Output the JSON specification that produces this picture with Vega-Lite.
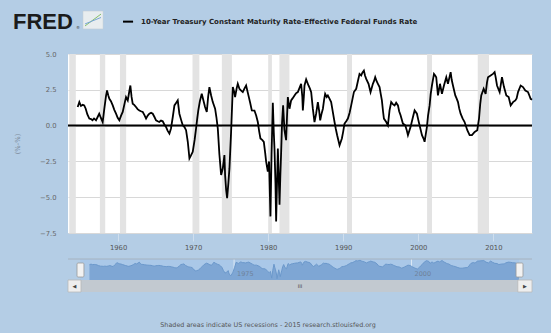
{
  "$schema": "https://vega.github.io/schema/vega-lite/v6.json",
  "background": "#b4cde5",
  "padding": {"left": 12, "top": 10, "right": 20, "bottom": 5},
  "bounds": "flush",
  "spacing": 26,
  "config": {
    "view": {"stroke": null},
    "font": "DejaVu Sans",
    "axis": {"labelFont": "DejaVu Sans", "titleFont": "DejaVu Sans", "labelOverlap": false}
  },
  "datasets": {
    "recessions": [
      {"start": 1953.5, "end": 1954.37},
      {"start": 1957.58, "end": 1958.29},
      {"start": 1960.25, "end": 1961.08},
      {"start": 1969.92, "end": 1970.83},
      {"start": 1973.83, "end": 1975.17},
      {"start": 1980.0, "end": 1980.5},
      {"start": 1981.5, "end": 1982.83},
      {"start": 1990.5, "end": 1991.17},
      {"start": 2001.17, "end": 2001.83},
      {"start": 2007.92, "end": 2009.42}
    ],
    "series": [
      {"t": 1954.62, "v": 1.30}, {"t": 1954.84, "v": 1.64}, {"t": 1955.06, "v": 1.37}, {"t": 1955.30, "v": 1.45},
      {"t": 1955.49, "v": 1.41}, {"t": 1955.69, "v": 1.18}, {"t": 1955.90, "v": 0.80}, {"t": 1956.17, "v": 0.49},
      {"t": 1956.40, "v": 0.45}, {"t": 1956.59, "v": 0.37}, {"t": 1956.80, "v": 0.50}, {"t": 1957.06, "v": 0.37},
      {"t": 1957.28, "v": 0.60}, {"t": 1957.49, "v": 0.83}, {"t": 1957.70, "v": 0.55}, {"t": 1957.95, "v": 0.25},
      {"t": 1958.17, "v": 1.18}, {"t": 1958.40, "v": 2.10}, {"t": 1958.53, "v": 2.45}, {"t": 1958.70, "v": 2.10},
      {"t": 1958.84, "v": 1.87}, {"t": 1959.05, "v": 1.70}, {"t": 1959.29, "v": 1.41}, {"t": 1959.50, "v": 1.10},
      {"t": 1959.73, "v": 0.83}, {"t": 1959.95, "v": 0.55}, {"t": 1960.17, "v": 0.37}, {"t": 1960.40, "v": 0.70},
      {"t": 1960.62, "v": 0.95}, {"t": 1960.85, "v": 1.50}, {"t": 1961.06, "v": 1.99}, {"t": 1961.29, "v": 1.76},
      {"t": 1961.50, "v": 2.40}, {"t": 1961.64, "v": 2.80}, {"t": 1961.80, "v": 2.00}, {"t": 1961.95, "v": 1.53},
      {"t": 1962.15, "v": 1.45}, {"t": 1962.39, "v": 1.30}, {"t": 1962.60, "v": 1.15}, {"t": 1962.84, "v": 1.06},
      {"t": 1963.05, "v": 1.00}, {"t": 1963.29, "v": 0.95}, {"t": 1963.50, "v": 0.75}, {"t": 1963.73, "v": 0.49},
      {"t": 1963.95, "v": 0.70}, {"t": 1964.17, "v": 0.83}, {"t": 1964.40, "v": 0.90}, {"t": 1964.62, "v": 0.83},
      {"t": 1964.85, "v": 0.60}, {"t": 1965.06, "v": 0.37}, {"t": 1965.28, "v": 0.30}, {"t": 1965.49, "v": 0.25},
      {"t": 1965.72, "v": 0.35}, {"t": 1965.95, "v": 0.30}, {"t": 1966.15, "v": 0.10}, {"t": 1966.39, "v": -0.09},
      {"t": 1966.60, "v": -0.35}, {"t": 1966.84, "v": -0.56}, {"t": 1967.05, "v": -0.20}, {"t": 1967.29, "v": 0.60},
      {"t": 1967.51, "v": 1.41}, {"t": 1967.75, "v": 1.60}, {"t": 1967.95, "v": 1.76}, {"t": 1968.17, "v": 0.83},
      {"t": 1968.40, "v": 0.40}, {"t": 1968.62, "v": 0.02}, {"t": 1968.85, "v": -0.10}, {"t": 1969.06, "v": -0.32},
      {"t": 1969.29, "v": -1.13}, {"t": 1969.51, "v": -2.29}, {"t": 1969.70, "v": -2.10}, {"t": 1969.95, "v": -1.83},
      {"t": 1970.20, "v": -1.00}, {"t": 1970.39, "v": -0.21}, {"t": 1970.55, "v": 0.50}, {"t": 1970.69, "v": 1.06},
      {"t": 1970.90, "v": 1.70}, {"t": 1971.15, "v": 2.22}, {"t": 1971.35, "v": 1.80}, {"t": 1971.59, "v": 1.30},
      {"t": 1971.82, "v": 0.95}, {"t": 1972.00, "v": 2.00}, {"t": 1972.17, "v": 2.69}, {"t": 1972.40, "v": 2.10},
      {"t": 1972.62, "v": 1.64}, {"t": 1972.93, "v": 1.18}, {"t": 1973.10, "v": 0.60}, {"t": 1973.29, "v": -0.21},
      {"t": 1973.50, "v": -2.00}, {"t": 1973.73, "v": -3.45}, {"t": 1973.95, "v": -3.00}, {"t": 1974.17, "v": -2.06},
      {"t": 1974.26, "v": -3.45}, {"t": 1974.40, "v": -4.50}, {"t": 1974.53, "v": -5.07}, {"t": 1974.70, "v": -4.00},
      {"t": 1974.84, "v": -2.99}, {"t": 1975.06, "v": -0.44}, {"t": 1975.29, "v": 2.69}, {"t": 1975.50, "v": 2.30},
      {"t": 1975.59, "v": 1.99}, {"t": 1975.80, "v": 2.60}, {"t": 1975.95, "v": 2.92}, {"t": 1976.17, "v": 2.57},
      {"t": 1976.40, "v": 2.45}, {"t": 1976.62, "v": 2.34}, {"t": 1976.85, "v": 2.60}, {"t": 1977.06, "v": 2.80},
      {"t": 1977.37, "v": 2.11}, {"t": 1977.60, "v": 1.60}, {"t": 1977.82, "v": 1.06}, {"t": 1978.17, "v": 1.05},
      {"t": 1978.40, "v": 0.70}, {"t": 1978.62, "v": 0.25}, {"t": 1978.80, "v": -0.40}, {"t": 1978.97, "v": -0.90},
      {"t": 1979.20, "v": -1.00}, {"t": 1979.42, "v": -1.13}, {"t": 1979.60, "v": -1.90}, {"t": 1979.73, "v": -2.52},
      {"t": 1979.95, "v": -3.22}, {"t": 1980.12, "v": -2.50}, {"t": 1980.30, "v": -6.34}, {"t": 1980.45, "v": -2.00},
      {"t": 1980.62, "v": 1.60}, {"t": 1980.75, "v": -0.50}, {"t": 1980.84, "v": -1.60}, {"t": 1980.97, "v": -4.00},
      {"t": 1981.06, "v": -6.69}, {"t": 1981.18, "v": -4.00}, {"t": 1981.29, "v": -1.60}, {"t": 1981.40, "v": -3.50},
      {"t": 1981.51, "v": -5.53}, {"t": 1981.62, "v": -3.50}, {"t": 1981.73, "v": -1.83}, {"t": 1981.85, "v": 0.20},
      {"t": 1981.99, "v": 1.41}, {"t": 1982.17, "v": -0.32}, {"t": 1982.39, "v": -1.02}, {"t": 1982.50, "v": 0.50},
      {"t": 1982.62, "v": 1.99}, {"t": 1982.84, "v": 1.18}, {"t": 1983.06, "v": 1.76}, {"t": 1983.25, "v": 1.90},
      {"t": 1983.51, "v": 2.11}, {"t": 1983.70, "v": 2.25}, {"t": 1983.95, "v": 2.34}, {"t": 1984.15, "v": 2.60},
      {"t": 1984.39, "v": 2.92}, {"t": 1984.55, "v": 2.00}, {"t": 1984.62, "v": 1.06}, {"t": 1984.75, "v": 2.00},
      {"t": 1984.84, "v": 2.80}, {"t": 1985.06, "v": 3.22}, {"t": 1985.37, "v": 2.80}, {"t": 1985.55, "v": 2.60},
      {"t": 1985.73, "v": 2.34}, {"t": 1985.95, "v": 1.18}, {"t": 1986.17, "v": 0.25}, {"t": 1986.39, "v": 0.83},
      {"t": 1986.62, "v": 1.64}, {"t": 1986.80, "v": 1.00}, {"t": 1986.93, "v": 0.37}, {"t": 1987.10, "v": 0.80},
      {"t": 1987.29, "v": 1.18}, {"t": 1987.45, "v": 1.80}, {"t": 1987.59, "v": 2.22}, {"t": 1987.80, "v": 2.00},
      {"t": 1987.95, "v": 2.11}, {"t": 1988.15, "v": 1.90}, {"t": 1988.39, "v": 1.64}, {"t": 1988.60, "v": 1.00},
      {"t": 1988.84, "v": 0.25}, {"t": 1989.00, "v": -0.20}, {"t": 1989.19, "v": -0.67}, {"t": 1989.51, "v": -1.37},
      {"t": 1989.82, "v": -0.90}, {"t": 1990.00, "v": -0.40}, {"t": 1990.17, "v": 0.14}, {"t": 1990.40, "v": 0.30},
      {"t": 1990.62, "v": 0.49}, {"t": 1990.85, "v": 0.90}, {"t": 1991.06, "v": 1.41}, {"t": 1991.25, "v": 1.90},
      {"t": 1991.42, "v": 2.34}, {"t": 1991.73, "v": 2.57}, {"t": 1991.95, "v": 3.10}, {"t": 1992.17, "v": 3.61},
      {"t": 1992.39, "v": 3.50}, {"t": 1992.55, "v": 3.70}, {"t": 1992.75, "v": 3.84}, {"t": 1992.90, "v": 3.50},
      {"t": 1993.06, "v": 3.26}, {"t": 1993.37, "v": 2.92}, {"t": 1993.64, "v": 2.34}, {"t": 1993.95, "v": 2.92},
      {"t": 1994.10, "v": 3.10}, {"t": 1994.26, "v": 3.38}, {"t": 1994.45, "v": 3.10}, {"t": 1994.62, "v": 2.92},
      {"t": 1994.84, "v": 2.69}, {"t": 1995.00, "v": 2.20}, {"t": 1995.15, "v": 1.76}, {"t": 1995.30, "v": 1.00},
      {"t": 1995.42, "v": 0.49}, {"t": 1995.73, "v": 0.25}, {"t": 1995.95, "v": 0.02}, {"t": 1996.17, "v": 1.06},
      {"t": 1996.39, "v": 1.64}, {"t": 1996.60, "v": 1.50}, {"t": 1996.84, "v": 1.41}, {"t": 1997.05, "v": 1.60},
      {"t": 1997.29, "v": 1.41}, {"t": 1997.45, "v": 1.00}, {"t": 1997.64, "v": 0.72}, {"t": 1997.95, "v": 0.14},
      {"t": 1998.26, "v": 0.02}, {"t": 1998.45, "v": -0.30}, {"t": 1998.62, "v": -0.67}, {"t": 1998.97, "v": -0.09},
      {"t": 1999.29, "v": 0.60}, {"t": 1999.51, "v": 1.06}, {"t": 1999.82, "v": 0.83}, {"t": 2000.00, "v": 0.40},
      {"t": 2000.17, "v": 0.02}, {"t": 2000.49, "v": -0.67}, {"t": 2000.70, "v": -0.90}, {"t": 2000.84, "v": -1.13},
      {"t": 2001.00, "v": -0.60}, {"t": 2001.15, "v": -0.09}, {"t": 2001.30, "v": 0.70}, {"t": 2001.51, "v": 1.41},
      {"t": 2001.65, "v": 2.20}, {"t": 2001.82, "v": 2.80}, {"t": 2002.09, "v": 3.61}, {"t": 2002.25, "v": 3.50},
      {"t": 2002.39, "v": 3.38}, {"t": 2002.62, "v": 2.11}, {"t": 2002.89, "v": 2.92}, {"t": 2003.15, "v": 2.22},
      {"t": 2003.42, "v": 2.80}, {"t": 2003.73, "v": 3.38}, {"t": 2003.95, "v": 2.92}, {"t": 2004.12, "v": 3.30},
      {"t": 2004.31, "v": 3.73}, {"t": 2004.45, "v": 3.20}, {"t": 2004.62, "v": 2.80}, {"t": 2004.93, "v": 2.11},
      {"t": 2005.10, "v": 1.90}, {"t": 2005.29, "v": 1.64}, {"t": 2005.45, "v": 1.20}, {"t": 2005.64, "v": 0.83},
      {"t": 2005.90, "v": 0.50}, {"t": 2006.17, "v": 0.25}, {"t": 2006.53, "v": -0.32}, {"t": 2006.84, "v": -0.67},
      {"t": 2007.15, "v": -0.67}, {"t": 2007.51, "v": -0.44}, {"t": 2007.86, "v": -0.32}, {"t": 2008.09, "v": 0.49},
      {"t": 2008.25, "v": 1.50}, {"t": 2008.39, "v": 2.11}, {"t": 2008.71, "v": 2.57}, {"t": 2008.97, "v": 2.22},
      {"t": 2009.15, "v": 3.00}, {"t": 2009.29, "v": 3.38}, {"t": 2009.64, "v": 3.50}, {"t": 2009.95, "v": 3.61},
      {"t": 2010.17, "v": 3.73}, {"t": 2010.30, "v": 3.40}, {"t": 2010.49, "v": 2.80}, {"t": 2010.84, "v": 2.34},
      {"t": 2011.15, "v": 3.38}, {"t": 2011.42, "v": 2.69}, {"t": 2011.73, "v": 2.11}, {"t": 2012.04, "v": 1.99},
      {"t": 2012.31, "v": 1.41}, {"t": 2012.62, "v": 1.64}, {"t": 2012.93, "v": 1.76}, {"t": 2013.10, "v": 1.90},
      {"t": 2013.29, "v": 2.34}, {"t": 2013.64, "v": 2.80}, {"t": 2013.95, "v": 2.69}, {"t": 2014.26, "v": 2.45},
      {"t": 2014.62, "v": 2.34}, {"t": 2014.80, "v": 2.10}, {"t": 2014.97, "v": 1.87}, {"t": 2015.15, "v": 1.80}
    ]
  },
  "vconcat": [
    {
      "width": 464,
      "height": 179,
      "view": {"fill": "white", "stroke": null},
      "layer": [
        {
          "data": {"name": "recessions"},
          "mark": {"type": "rect", "color": "#e3e3e3"},
          "encoding": {
            "x": {
              "field": "start", "type": "quantitative",
              "scale": {"domain": [1953.33, 2015.15], "nice": false, "zero": false},
              "axis": {
                "values": [1960, 1970, 1980, 1990, 2000, 2010], "format": "d", "title": null, "tickCount": 20,
                "grid": false, "domain": false, "ticks": true, "tickColor": "#cfdeed", "tickSize": 8,
                "labelFontSize": 6.8, "labelColor": "#555555", "labelPadding": 3
              }
            },
            "x2": {"field": "end"}
          }
        },
        {
          "data": {"values": [{}]},
          "mark": {"type": "rule", "color": "black", "strokeWidth": 2},
          "encoding": {
            "y": {
              "datum": 0, "type": "quantitative",
              "scale": {"domain": [-7.5, 5], "nice": false, "zero": false},
              "axis": {
                "values": [-7.5, -5, -2.5, 0, 2.5, 5], "tickCount": 20, "format": ".1f", "title": "(%-%)",
                "titleColor": "#7d8c9c", "titleFontSize": 6.8, "titleFontWeight": "normal", "titlePadding": 19,
                "labelColor": "#666666", "labelFontSize": 6.8, "labelPadding": 12, "labelOverlap": false,
                "labelBound": false, "labelFlush": false,
                "ticks": false, "domain": false, "grid": true, "gridColor": "#d8d8d8"
              }
            }
          }
        },
        {
          "data": {"name": "series"},
          "mark": {"type": "line", "color": "black", "strokeWidth": 1.8},
          "encoding": {
            "x": {"field": "t", "type": "quantitative"},
            "y": {"field": "v", "type": "quantitative"}
          }
        },
        {
          "data": {"values": [{}]},
          "mark": {"type": "text", "text": "FRED", "font": "Liberation Sans", "fontWeight": "bold", "fontSize": 22, "align": "left", "baseline": "alphabetic", "color": "#1b1b1b"},
          "encoding": {"x": {"datum": 1946.0, "type": "quantitative"}, "y": {"datum": 6.75, "type": "quantitative"}}
        },
        {
          "data": {"values": [{}]},
          "mark": {"type": "text", "text": "®", "fontSize": 4, "align": "left", "baseline": "alphabetic", "color": "#333333"},
          "encoding": {"x": {"datum": 1954.4, "type": "quantitative"}, "y": {"datum": 6.78, "type": "quantitative"}}
        },
        {
          "data": {"values": [{}]},
          "mark": {"type": "rect", "fill": "#e8edef", "stroke": "#c5cdd3", "strokeWidth": 0.5},
          "encoding": {
            "x": {"datum": 1955.33, "type": "quantitative"}, "x2": {"datum": 1958.0},
            "y": {"datum": 8.0, "type": "quantitative"}, "y2": {"datum": 6.75}
          }
        },
        {
          "data": {"values": [{}]},
          "mark": {"type": "rule", "color": "#86c06a", "strokeWidth": 1},
          "encoding": {
            "x": {"datum": 1955.6, "type": "quantitative"}, "x2": {"datum": 1957.73},
            "y": {"datum": 6.96, "type": "quantitative"}, "y2": {"datum": 7.79}
          }
        },
        {
          "data": {"values": [{}]},
          "mark": {"type": "rule", "color": "#7aa6d6", "strokeWidth": 1},
          "encoding": {
            "x": {"datum": 1955.6, "type": "quantitative"}, "x2": {"datum": 1957.73},
            "y": {"datum": 7.1, "type": "quantitative"}, "y2": {"datum": 7.55}
          }
        },
        {
          "data": {"values": [{}]},
          "mark": {"type": "rule", "color": "black", "strokeWidth": 2},
          "encoding": {
            "x": {"datum": 1960.66, "type": "quantitative"}, "x2": {"datum": 1962.0},
            "y": {"datum": 7.26, "type": "quantitative"}
          }
        },
        {
          "data": {"values": [{}]},
          "mark": {"type": "text", "text": "10-Year Treasury Constant Maturity Rate-Effective Federal Funds Rate", "font": "DejaVu Sans", "fontWeight": "bold", "fontSize": 7, "align": "left", "baseline": "middle", "color": "#222222"},
          "encoding": {"x": {"datum": 1963.06, "type": "quantitative"}, "y": {"datum": 7.26, "type": "quantitative"}}
        }
      ]
    },
    {
      "width": 464,
      "height": 34,
      "layer": [
        {
          "data": {"values": [{}]},
          "mark": {"type": "rect", "fill": "#aac8e8"},
          "encoding": {
            "x": {"datum": 1953.33, "type": "quantitative", "scale": {"domain": [1951.6, 2016.98], "nice": false, "zero": false}, "axis": null},
            "x2": {"datum": 2015.15},
            "y": {"datum": 4.58, "type": "quantitative", "scale": {"domain": [-14.87, 4.58], "nice": false, "zero": false}, "axis": null},
            "y2": {"datum": -7.43}
          }
        },
        {
          "data": {"values": [{"yr": 1975}, {"yr": 2000}]},
          "mark": {"type": "rule", "color": "#dce8f4", "strokeWidth": 1},
          "encoding": {
            "x": {"field": "yr", "type": "quantitative"},
            "y": {"datum": 4.58, "type": "quantitative"}, "y2": {"datum": -7.43}
          }
        },
        {
          "data": {"name": "series"},
          "mark": {"type": "area", "color": "#7ea6d4", "opacity": 1, "line": {"color": "#6b98cb", "strokeWidth": 1}},
          "encoding": {
            "x": {"field": "t", "type": "quantitative"},
            "y": {"field": "v", "type": "quantitative"},
            "y2": {"datum": -7.43}
          }
        },
        {
          "data": {"values": [{"yr": 1975, "lab": "1975"}, {"yr": 2000, "lab": "2000"}]},
          "mark": {"type": "text", "align": "left", "baseline": "middle", "dx": 3, "fontSize": 6.5, "color": "#6f8299"},
          "encoding": {
            "x": {"field": "yr", "type": "quantitative"},
            "y": {"datum": -4.17, "type": "quantitative"},
            "text": {"field": "lab"}
          }
        },
        {
          "data": {"values": [{}]},
          "mark": {"type": "rule", "color": "#a6b2bf", "strokeWidth": 1},
          "encoding": {
            "x": {"datum": 1951.6, "type": "quantitative"}, "x2": {"datum": 2016.98},
            "y": {"datum": 4.58, "type": "quantitative"}
          }
        },
        {
          "data": {"values": [{}]},
          "mark": {"type": "rect", "fill": "#c2c9d0"},
          "encoding": {
            "x": {"datum": 1951.6, "type": "quantitative"}, "x2": {"datum": 2016.98},
            "y": {"datum": -7.43, "type": "quantitative"}, "y2": {"datum": -14.3}
          }
        },
        {
          "data": {"values": [{"a": 1951.6, "b": 1953.43}, {"a": 2014.98, "b": 2016.98}]},
          "mark": {"type": "rect", "fill": "#eeeeee", "stroke": "#b9b9b9", "strokeWidth": 0.8},
          "encoding": {
            "x": {"field": "a", "type": "quantitative"}, "x2": {"field": "b"},
            "y": {"datum": -7.43, "type": "quantitative"}, "y2": {"datum": -14.3}
          }
        },
        {
          "data": {"values": [{"a": 1952.52, "g": "◀"}, {"a": 2015.98, "g": "▶"}, {"a": 1984.29, "g": "III"}]},
          "mark": {"type": "text", "fontSize": 5, "color": "#444444", "align": "center", "baseline": "middle"},
          "encoding": {
            "x": {"field": "a", "type": "quantitative"},
            "y": {"datum": -10.87, "type": "quantitative"},
            "text": {"field": "g"}
          }
        },
        {
          "data": {"values": [{"a": 1952.87, "b": 1953.85}, {"a": 2014.73, "b": 2015.71}]},
          "mark": {"type": "rect", "fill": "#f2f2f2", "stroke": "#999999", "strokeWidth": 0.8, "cornerRadius": 1},
          "encoding": {
            "x": {"field": "a", "type": "quantitative"}, "x2": {"field": "b"},
            "y": {"datum": 2.29, "type": "quantitative"}, "y2": {"datum": -5.72}
          }
        },
        {
          "data": {"values": [{}]},
          "mark": {"type": "text", "text": "Shaded areas indicate US recessions - 2015 research.stlouisfed.org", "fontSize": 6.4, "color": "#555555", "align": "center", "baseline": "middle"},
          "encoding": {"x": {"datum": 1979.78, "type": "quantitative"}, "y": {"datum": -33.2, "type": "quantitative"}}
        }
      ]
    }
  ]
}
